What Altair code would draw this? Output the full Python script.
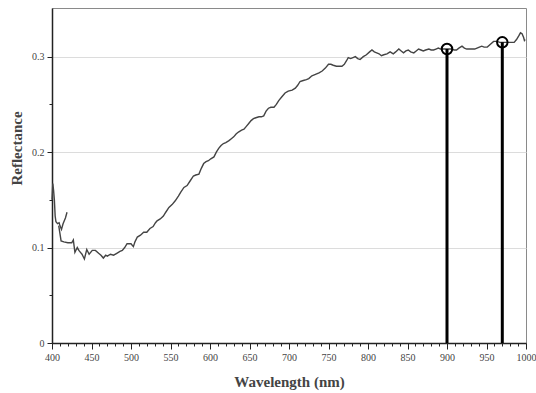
import altair as alt
import pandas as pd

# Short rising branch at the blue end of the spectrum
wl_head = [400, 401, 402, 403, 404, 405, 407, 409, 410, 412, 414, 417, 419]
refl_head = [0.150, 0.167, 0.160, 0.150, 0.133, 0.127, 0.125, 0.126, 0.123, 0.119, 0.125, 0.131, 0.137]

# Main reflectance spectrum
wl_main = [408.5, 411.5, 415, 420, 425, 427, 429, 432, 434, 436, 438, 441, 444, 447, 451, 455,
           459, 462, 465, 468, 470, 474, 478, 482, 486, 489, 492, 495, 500, 503, 505, 508,
           512, 516, 520, 524, 528, 531, 533, 537, 541, 544, 548, 552, 556, 560, 563, 567,
           571, 575, 579, 582, 586, 589, 592, 595, 598, 601, 605, 608, 611, 614, 617, 620,
           624, 627, 630, 633, 636, 640, 643, 646, 649, 652, 655, 658, 662, 665, 668, 671,
           674, 677, 681, 684, 687, 691, 695, 699, 704, 708, 711, 714, 718, 722, 725, 729,
           732, 735, 738, 742, 746, 750, 753, 756, 760, 764, 767, 770, 773, 775, 778, 781,
           784, 787, 790, 794, 798, 802, 805, 808, 811, 814, 817, 820, 824, 828, 832, 835,
           839, 842, 845, 848, 851, 854, 858, 861, 864, 867, 870, 873, 877, 880, 883, 886,
           889, 892, 896, 900, 903, 906, 909, 912, 915, 919, 922, 925, 928, 932, 935, 938,
           941, 944, 947, 951, 955, 959, 963, 967, 970, 974, 978, 982, 985, 988, 991, 993,
           995, 997, 998, 999]
refl_main = [0.123, 0.107, 0.106, 0.105, 0.105, 0.108, 0.095, 0.100, 0.097, 0.095, 0.093, 0.088, 0.098, 0.093, 0.097, 0.097,
             0.094, 0.092, 0.089, 0.092, 0.091, 0.093, 0.092, 0.094, 0.096, 0.097, 0.100, 0.104, 0.104, 0.101, 0.106, 0.111,
             0.113, 0.116, 0.116, 0.120, 0.122, 0.126, 0.128, 0.130, 0.133, 0.137, 0.142, 0.145, 0.149, 0.154, 0.158, 0.163,
             0.165, 0.170, 0.175, 0.176, 0.177, 0.183, 0.188, 0.190, 0.191, 0.193, 0.195, 0.200, 0.204, 0.207, 0.209, 0.210,
             0.212, 0.214, 0.216, 0.219, 0.221, 0.223, 0.224, 0.227, 0.230, 0.233, 0.235, 0.236, 0.237, 0.237, 0.238, 0.243,
             0.246, 0.247, 0.247, 0.250, 0.254, 0.258, 0.262, 0.264, 0.265, 0.267, 0.270, 0.274, 0.275, 0.276, 0.277, 0.280,
             0.281, 0.282, 0.283, 0.285, 0.288, 0.292, 0.292, 0.291, 0.290, 0.290, 0.290, 0.292, 0.296, 0.299, 0.298, 0.299,
             0.300, 0.298, 0.297, 0.300, 0.302, 0.305, 0.307, 0.305, 0.304, 0.303, 0.301, 0.302, 0.303, 0.305, 0.303, 0.305,
             0.308, 0.306, 0.304, 0.306, 0.307, 0.305, 0.304, 0.306, 0.308, 0.307, 0.306, 0.307, 0.308, 0.307, 0.307, 0.308,
             0.309, 0.308, 0.308, 0.308, 0.308, 0.308, 0.307, 0.307, 0.309, 0.311, 0.309, 0.308, 0.308, 0.308, 0.308, 0.309,
             0.310, 0.311, 0.310, 0.310, 0.313, 0.316, 0.316, 0.315, 0.315, 0.315, 0.315, 0.315, 0.315, 0.318, 0.322, 0.325,
             0.324, 0.320, 0.317, 0.318]

# Selected wavelengths
marker_wl = [900, 970]
marker_refl = [0.308, 0.315]

x_ticks = list(range(400, 1001, 10))
y_ticks = [0, 0.05, 0.1, 0.15, 0.2, 0.25, 0.3]

spectrum = pd.DataFrame({
    "wl": wl_head + wl_main,
    "refl": refl_head + refl_main,
    "seg": ["head"] * len(wl_head) + ["main"] * len(wl_main),
})
markers = pd.DataFrame({"wl": marker_wl, "refl": marker_refl, "zero": [0] * len(marker_wl)})

FONT = "Liberation Serif"

x_scale = alt.Scale(domain=[400, 1000], nice=False, zero=False)
y_scale = alt.Scale(domain=[0, 0.351], nice=False)

x_axis = alt.Axis(
    values=x_ticks,
    tickCount=61,
    labelExpr="datum.value % 50 == 0 ? '' + datum.value : ''",
    labelOverlap=False,
    labelFlush=False,
    tickSize={"condition": {"test": "datum.value % 50 == 0", "value": 6}, "value": 3},
    grid=False,
    title="Wavelength (nm)",
    titleY=38,
    titleBaseline="middle",
)
y_axis = alt.Axis(
    values=y_ticks,
    labelExpr="round(datum.value*20) % 2 == 0 ? (round(datum.value*10) == 0 ? '0' : '0.' + round(datum.value*10)) : ''",
    labelOverlap=False,
    labelFlush=False,
    tickSize={"condition": {"test": "round(datum.value*20) % 2 == 0", "value": 5}, "value": 3},
    gridOpacity={"condition": {"test": "round(datum.value*20) % 2 == 0 && datum.value > 0", "value": 1}, "value": 0},
    title="Reflectance",
    titleX=-36,
    titleY=140,
    titleAngle=-90,
    titleAlign="center",
    titleBaseline="middle",
)

line = alt.Chart(spectrum).mark_line(color="#444444", strokeWidth=1.4).encode(
    x=alt.X("wl:Q", scale=x_scale, axis=x_axis),
    y=alt.Y("refl:Q", scale=y_scale, axis=y_axis),
    detail="seg:N",
)

rules = alt.Chart(markers).mark_rule(color="black", strokeWidth=3).encode(
    x=alt.X("wl:Q", scale=x_scale, axis=x_axis),
    y=alt.Y("refl:Q", scale=y_scale, axis=y_axis),
    y2="zero:Q",
)

circles = alt.Chart(markers).mark_point(
    shape="circle", filled=False, size=110, color="black", strokeWidth=2, opacity=1
).encode(
    x=alt.X("wl:Q", scale=x_scale, axis=x_axis),
    y=alt.Y("refl:Q", scale=y_scale, axis=y_axis),
)

chart = (
    alt.layer(line, rules, circles)
    .properties(
        width=474,
        height=335,
        autosize=alt.AutoSizeParams(type="none"),
        padding={"left": 52, "top": 8, "right": 10, "bottom": 50},
    )
    .configure(background="white")
    .configure_view(stroke="#8a8a8a", strokeWidth=1)
    .configure_axis(
        domainColor="#222222",
        domainWidth=1.5,
        tickColor="#222222",
        tickWidth=1,
        gridColor="#dcdcdc",
        gridWidth=1,
        labelFont=FONT,
        labelFontSize=10,
        labelColor="#444444",
        labelPadding=3,
        titleFont=FONT,
        titleFontSize=15,
        titleFontWeight="bold",
        titleColor="#444444",
    )
)

chart.save("out.html", embed_options={"renderer": "svg", "actions": False})
